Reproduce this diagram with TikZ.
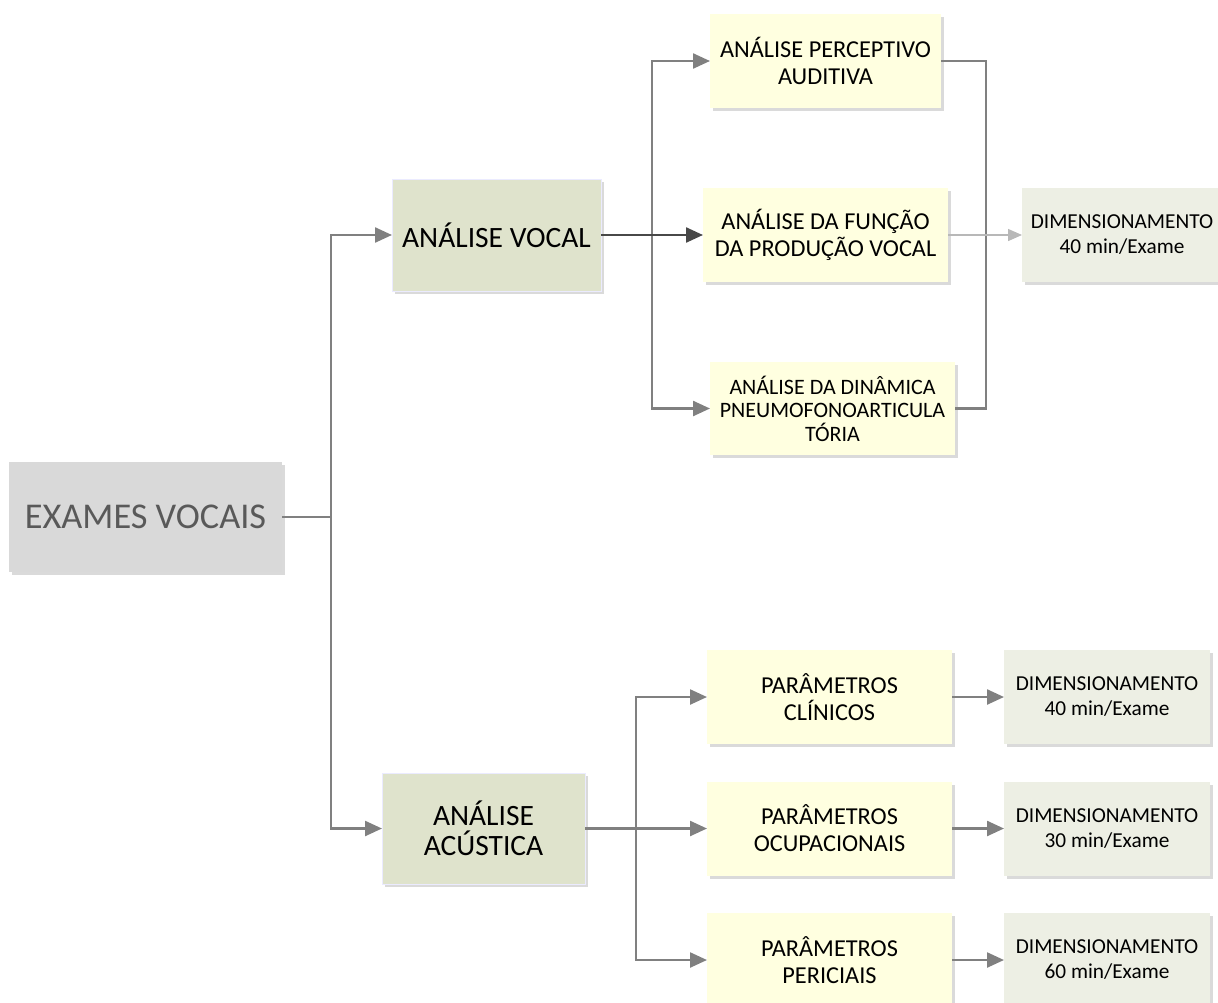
\documentclass[tikz,border=0pt]{standalone}
\usepackage{fontspec}
\setmainfont{Carlito}
\usetikzlibrary{arrows.meta,shadows}
\definecolor{linegray}{HTML}{808080}
\definecolor{darkline}{HTML}{484848}
\definecolor{lightline}{HTML}{B8B8B8}
\definecolor{rootfill}{HTML}{D9D9D9}
\definecolor{roottext}{HTML}{595959}
\definecolor{olivefill}{HTML}{DFE3CC}
\definecolor{yellowfill}{HTML}{FFFFE0}
\definecolor{dimfill}{HTML}{EDEFE4}
\definecolor{shadowgray}{HTML}{DADADA}
\begin{document}
\begin{tikzpicture}[x=1pt,y=-1pt,
  basebox/.style={inner sep=0pt, outer sep=0pt, align=center, text=black,
    preaction={fill=shadowgray, transform canvas={shift={(3pt,-3pt)}}}},
  rootbox/.style={basebox, fill=rootfill, text=roottext,
    font=\fontsize{36.3}{42}\selectfont},
  levelbox/.style={basebox, fill=olivefill, draw=blue!8, line width=0.8pt,
    font=\fontsize{29.5}{30.5}\selectfont},
  midbox/.style={basebox, fill=yellowfill,
    font=\fontsize{24.3}{27}\selectfont},
  dimbox/.style={basebox, fill=dimfill,
    font=\fontsize{21.3}{25}\selectfont},
  conn/.style={draw=linegray, line width=2.4pt},
  tip/.style={-{Triangle[length=17pt,width=15pt]}},
  darkconn/.style={draw=darkline, line width=2.4pt},
  lightconn/.style={draw=lightline, line width=1.4pt, -{Triangle[length=14pt,width=12pt]}}
]
\useasboundingbox (0,0) rectangle (1218,1002);

% root and level boxes
\node[rootbox, minimum width=273pt, minimum height=110pt] (ex) at (145.5,517) {EXAMES VOCAIS};
\node[levelbox, minimum width=209pt, minimum height=112pt] (av) at (496.5,235) {ANÁLISE VOCAL};
\node[levelbox, minimum width=203pt, minimum height=111pt] (aa) at (483.5,828.5) {ANÁLISE\\ACÚSTICA};

% upper branch boxes
\node[midbox, minimum width=231pt, minimum height=94pt] (b1) at (825.5,61) {ANÁLISE PERCEPTIVO\\AUDITIVA};
\node[midbox, minimum width=245pt, minimum height=94pt] (b2) at (825.5,235) {ANÁLISE DA FUNÇÃO\\DA PRODUÇÃO VOCAL};
\node[midbox, minimum width=245pt, minimum height=93pt, font=\fontsize{22}{23.5}\selectfont] (b3) at (832.5,408.5) {ANÁLISE DA DINÂMICA\\PNEUMOFONOARTICULA\\TÓRIA};
\node[dimbox, minimum width=200pt, minimum height=94pt] (d0) at (1122,235) {DIMENSIONAMENTO\\40 min/Exame};

% lower branch boxes
\node[midbox, minimum width=245pt, minimum height=94pt] (p1) at (829.5,697) {PARÂMETROS\\CLÍNICOS};
\node[midbox, minimum width=245pt, minimum height=94pt] (p2) at (829.5,828.5) {PARÂMETROS\\OCUPACIONAIS};
\node[midbox, minimum width=245pt, minimum height=94pt] (p3) at (829.5,960) {PARÂMETROS\\PERICIAIS};
\node[dimbox, minimum width=206pt, minimum height=94pt] (d1) at (1107,697) {DIMENSIONAMENTO\\40 min/Exame};
\node[dimbox, minimum width=206pt, minimum height=94pt] (d2) at (1107,828.5) {DIMENSIONAMENTO\\30 min/Exame};
\node[dimbox, minimum width=206pt, minimum height=94pt] (d3) at (1107,960) {DIMENSIONAMENTO\\60 min/Exame};

% junction columns
\coordinate (trunk) at (331,0);
\coordinate (colA) at (652,0);
\coordinate (colB) at (636,0);
\coordinate (bracket) at (986,0);

% root connectors
\draw[conn] (ex.east) -- (ex.east -| trunk);
\draw[conn, tip] (ex.east -| trunk) |- (av.west);
\draw[conn, tip] (ex.east -| trunk) |- (aa.west);

% upper branch connectors
\draw[conn] (av.east) -- (av.east -| colA);
\draw[conn, tip] (av.east -| colA) |- (b1.west);
\draw[conn, tip] (av.east -| colA) |- (b3.west);
\draw[darkconn, tip] (av.east) -- (b2.west);
\draw[conn] (b1.east) -- (b1.east -| bracket) -- (b3.east -| bracket) -- (b3.east);
\draw[lightconn] (b2.east) -- (d0.west);

% lower branch connectors
\draw[conn] (aa.east) -- (aa.east -| colB);
\draw[conn, tip] (aa.east -| colB) |- (p1.west);
\draw[conn, tip] (aa.east -| colB) -- (p2.west);
\draw[conn, tip] (aa.east -| colB) |- (p3.west);
\draw[conn, tip] (p1.east) -- (d1.west);
\draw[conn, tip] (p2.east) -- (d2.west);
\draw[conn, tip] (p3.east) -- (d3.west);
\end{tikzpicture}
\end{document}
